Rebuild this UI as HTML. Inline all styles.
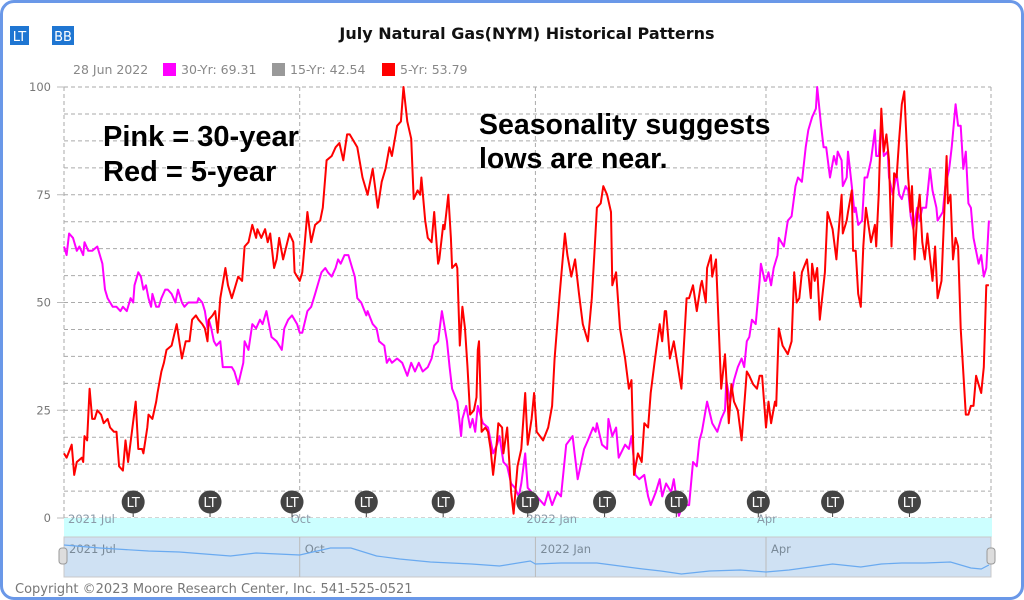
<!DOCTYPE html>
<html><head><meta charset="utf-8">
<style>
html,body{margin:0;padding:0;background:#fff;}
body{width:1024px;height:600px;overflow:hidden;font-family:"Liberation Sans","DejaVu Sans",sans-serif;}
#frame{position:absolute;left:0;top:0;width:1018px;height:594px;border:3px solid #6a98e8;border-radius:14px;box-sizing:content-box;}
svg{position:absolute;left:0;top:0;}
</style></head>
<body>
<div id="frame"></div>
<svg id="chart" width="1024" height="600">
  <g><rect x="10" y="26" width="19" height="19" fill="#1f76d2"/><text x="19.5" y="41" fill="#fff" font-size="13" text-anchor="middle" font-family="DejaVu Sans, sans-serif">LT</text></g>
  <g><rect x="52" y="26" width="22" height="19" fill="#1f76d2"/><text x="63" y="41" fill="#fff" font-size="13" text-anchor="middle" font-family="DejaVu Sans, sans-serif">BB</text></g>
  <text x="527" y="39" text-anchor="middle" font-size="16" font-weight="bold" font-family="DejaVu Sans, sans-serif" fill="#111">July Natural Gas(NYM) Historical Patterns</text>
  <g font-size="12.5" fill="#888" font-family="DejaVu Sans, sans-serif">
    <text x="73" y="74">28 Jun 2022</text>
    <g><rect x="163" y="63" width="13" height="13" fill="#ff00ff"/><text x="181" y="74">30-Yr: 69.31</text></g>
    <g><rect x="272" y="63" width="13" height="13" fill="#999"/><text x="290" y="74">15-Yr: 42.54</text></g>
    <g><rect x="382" y="63" width="13" height="13" fill="#ff0000"/><text x="400" y="74">5-Yr: 53.79</text></g>
  </g>
  <g id="grid"></g>
  <g id="yaxis"></g>
  <g id="series"></g>
  <g font-size="29" font-weight="bold" fill="#000">
    <text x="103" y="146">Pink = 30-year</text>
    <text x="103" y="181">Red = 5-year</text>
  </g>
  <g font-size="28.5" font-weight="bold" fill="#000">
    <text x="479" y="134">Seasonality suggests</text>
    <text x="479" y="168">lows are near.</text>
  </g>
  <rect x="64" y="518" width="928" height="19" fill="#ccffff"/>
  <g id="xlabels"></g>
  <g id="markers"></g>
  <g id="nav"></g>
  <text x="15" y="593" font-size="13" fill="#777" font-family="DejaVu Sans, sans-serif">Copyright ©2023 Moore Research Center, Inc. 541-525-0521</text>
</svg>
<script>
// ---- data ----
const yTicks = [0, 25, 50, 75, 100];
const monthLabels = ["2021 Jul", "Oct", "2022 Jan", "Apr"];
const monthDays = [0, 92, 184, 274];
const ltDays = [27, 57, 89, 118, 148, 181, 211, 239, 271, 300, 330];
const redDays = [0,1,3,4,5,7,7.5,8,9,10,11,12,13,14.5,15.5,17,18,19.5,20.5,21.5,23,24,25,26.5,28,29,30.5,31,32.5,33,34.5,36,36.5,38,39,40,42,44,46,47.5,49,50,51.5,52.5,54,55,56,56.5,58,59,60,61,63,64,65.5,66.5,68,69.5,70.5,72,73.5,75,75.5,77,78.5,79.5,80.5,82,83,84,85.5,88,89.5,90,92,93,95,96.5,98,100,101,102.5,104.5,106,107.5,109,110.5,111.5,113.5,114.5,116.5,118.5,120.5,122.5,124,125.5,127,128,130,131.5,132.5,134,135.5,136.5,138,139,139.5,141,142,143.5,144.5,146,146.5,148,148.5,150,151,151.5,153,153.5,154.5,155.5,156.5,157.5,158.5,160,161,161.5,162,163,164.5,165.5,166.5,167.5,169,169.5,171,171.5,173,174.5,175.5,177,178.5,180,181,182.5,183.5,184.5,187,189,190.5,191.5,193.5,195.5,196.5,198,199.5,201,202.5,204.5,206,207,208,209.5,210.5,212,213.5,214,215.5,217,219,220.5,221.5,222.5,224,225.5,226.5,228,229,230.5,232.5,233.5,234.5,235,236.5,238,241,243,244,245.5,247,248.5,249,250.5,251,252.5,253,254.5,256.5,258,259.5,260.5,261.5,263,264.5,266.5,267.5,269,270.5,271.5,272.5,274,275,276,277.5,278,279,280.5,281.5,282.5,284,285,286,287,288,290,291.5,292,293,294,295,297,298,300,301.5,302,303.5,304,305.5,306,307.5,308,309,310,311,312,313,314.5,315,316.5,317,318,319,320,321,322,323,324,325,326,327,328,329.5,330.5,331,332,333,334,335,336,337,339,340,341,342.5,344.5,345,346,347,348,349,350,352,353,354,355,356,357,358,359,360,361];
const redValues = [15,14,17,10,13,14,13,19,18,30,23,23,25,24,22,23,21,20,20,12,11,18,13,20,27,16,16,15,21,24,23,27,29,34,36,39,40,45,37,41,41,46,47,46,45,44,41,46,47,48,43,51,58,54,51,53,56,55,63,64,68,65,67,65,67,64,66,58,60,65,60,66,64,57,55,57,71,64,68,69,72,83,84,86,87,83,89,89,87,86,79,75,81,72,78,81,86,84,91,92,100,92,88,74,76,75,79,69,65,64,71,59,60,68,67,75,65,58,59,58,40,49,44,35,24,25,28,39,41,20,21,20,16,10,18,22,21,15,21,6,1,12,16,29,17,23,29,20,18,21,26,37,52,66,61,56,60,52,45,41,51,61,72,73,77,75,71,54,57,44,37,30,32,10,15,13,22,21,29,36,45,41,48,48,37,41,30,51,51,54,48,54,55,50,58,61,56,60,30,38,22,31,27,25,18,34,33,31,30,33,33,21,27,22,27,26,44,40,39,38,41,57,50,51,57,60,51,59,55,58,46,57,71,67,60,64,75,66,69,71,76,62,62,52,49,63,72,66,64,68,63,75,95,85,89,83,63,80,79,88,96,99,79,71,77,60,70,75,64,60,66,55,63,51,55,84,73,75,60,65,63,44,24,24,26,26,33,31,29,35,54,54];
const pinkDays = [0,1,2,3.5,5,6,7.5,8,9.5,11,13,13.5,15,16,17,19,20.5,22,23,24.5,26,27,27.5,29,30,31,32,33,34,34.5,36,37,38,39.5,40.5,42,43.5,44.5,46,47,48.5,50.5,52,52.5,54,55,56,56.5,57.5,58.5,59.5,61,62,63.5,65.5,66.5,68,70,70.5,72,73.5,75,76.5,77.5,79,81,83,85,86,87.5,89,91,92,93,95,96.5,98,99.5,100.5,102,103,104.5,106,107,108,109.5,111,112.5,113.5,114.5,116,118,118.5,120.5,122,123,125,126,127,128,130,132,134,135.5,137,138.5,140,142,143.5,144.5,146,147.5,149.5,150.5,151.5,153.5,155,155.5,157,158.5,159.5,160.5,161.5,163.5,165.5,167.5,169,170,171.5,173,174.5,176,177.5,178.5,180,181,182.5,184.5,187.5,189,190.5,192.5,194,196,198.5,200.5,203,204.5,206.5,207.5,208,210,212,212.5,214,215.5,216.5,219,220.5,221.5,223,224.5,226.5,228,229,231,232.5,233.5,235,237,238,240,241.5,244,245.5,247,248,249,251,253,255,256.5,258,258.5,260,261.5,263,264.5,265.5,266.5,267.5,268.5,270,271.5,272,273.5,274,275,276,277,278.5,279,281,282.5,284,285.5,286.5,288,289.5,290.5,292,293.5,294,295.5,296.5,297.5,299,300.5,301.5,302,303.5,304,305.5,306,307.5,308.5,309,310,311.5,312.5,313.5,315,316.5,317,318,319,320,321.5,322,323.5,325,326,327,328.5,329.5,330.5,331.5,333,334,335,336.5,338,339,340.5,341,343,344,345.5,346.5,348,349,350,351,352,353,354,355,357,358,359,360,361];
const pinkValues = [63,61,66,65,62,63,61,64,62,62,63,62,59,53,51,49,49,48,49,48,51,50,54,57,56,53,54,51,49,52,49,49,51,53,53,52,50,53,50,49,50,50,50,51,50,48,44,46,44,41,40,41,35,35,35,34,31,36,41,39,45,44,46,45,48,42,41,39,44,46,47,45,43,43,48,49,52,55,57,58,57,56,58,60,59,61,61,58,56,51,50,47,48,45,44,41,40,36,37,36,37,36,33,36,34,36,34,35,37,40,41,48,41,35,30,27,19,23,26,21,23,20,26,22,21,15,17,19,13,12,8,7,5,8,15,7,6,5,3,6,3,6,5,17,19,9,16,18,21,20,22,17,16,23,19,21,14,17,16,19,10,9,10,5,3,6,9,5,8,6,9,0.5,3,3,13,12,18,20,27,22,20,23,25,32,27,32,35,37,35,41,42,46,45,55,59,55,55,57,54,58,61,65,63,69,70,77,79,78,86,90,93,95,100,91,86,86,79,84,82,85,83,77,79,85,77,71,72,68,69,79,79,83,90,84,84,92,84,85,79,75,80,75,74,77,76,70,67,72,69,72,72,81,76,72,69,71,77,81,86,96,91,91,81,85,73,72,65,59,61,56,58,69];
const navDays = [0,14,33,45,65,75,92,104,112,122,131,143,159,170,182,184,194,208,214,226,233,241,252,264,274,283,300,311,319,327,336,346,354,358,361];
const navValues = [80,72.5,65,62.5,52.5,60,55,72.5,72.5,52.5,45,37.5,32.5,27.5,40,32.5,35,35,30,20,15,7.5,15,17.5,12.5,17.5,32.5,25,32.5,35,35,37.5,22.5,20,30];

// ---- scales ----
const X0 = 64, X1 = 991, PXPD = 2.562;
const xS = d => X0 + d * PXPD;
const Y0 = 518, Y100 = 87;
const yS = v => Y0 - (Y0 - Y100) * v / 100;
const NT = 537, NB = 577;
const nyS = v => NB - (NB - NT) * v / 100;
const NS = "http://www.w3.org/2000/svg";
function mk(tag, attrs, parent){ const e=document.createElementNS(NS,tag); for(const k in attrs) e.setAttribute(k,attrs[k]); parent.appendChild(e); return e; }

// grid
const grid = document.getElementById('grid');
for (let i=0;i<=16;i++){
  const v = i*6.25;
  const l = mk('line',{x1:X0,x2:X1,y1:yS(v),y2:yS(v),stroke:'#aaa','stroke-dasharray':'4,3','stroke-width':1},grid);
  
  
}
const vgDays = monthDays.concat([(X1-X0)/PXPD]);
vgDays.forEach(d=>{
  const l = mk('line',{x1:xS(d),x2:xS(d),y1:Y100,y2:Y0,stroke:'#aaa','stroke-dasharray':'4,3','stroke-width':1},grid);
  
  
});
// y axis
const ya = document.getElementById('yaxis');
yTicks.forEach(v=>{
  const t = mk('text',{x:51,y:yS(v)+4,'text-anchor':'end','font-size':11.5,fill:'#777','font-family':'DejaVu Sans, sans-serif'},ya);
  t.textContent = v;
  
  
  const tk = mk('line',{x1:57,x2:64,y1:yS(v),y2:yS(v),stroke:'#bbb'},ya);
  
  
});
// series
const sg = document.getElementById('series');
function line(days, vals, color, name){
  const pts = days.map((d,i)=>xS(d).toFixed(1)+','+yS(vals[i]).toFixed(1)).join(' ');
  const p = mk('polyline',{points:pts,fill:'none',stroke:color,'stroke-width':2,'stroke-linejoin':'round'},sg);
  
  
}
line(pinkDays,pinkValues,'#ff00ff','series-30yr-line');
line(redDays,redValues,'#ff0000','series-5yr-line');
// x labels
const xl = document.getElementById('xlabels');
monthLabels.forEach((m,i)=>{
  const t = mk('text',{x:xS(monthDays[i])+(i==0?4:-9),y:523,'font-size':11.5,fill:'#8a9aa8','font-family':'DejaVu Sans, sans-serif'},xl);
  t.textContent = m;
  
  
});
// LT markers
const mg = document.getElementById('markers');
ltDays.forEach(d=>{
  const g = mk('g',{},mg);
  
  
  const cx = xS(d);
  mk('line',{x1:cx,x2:cx,y1:510,y2:517,stroke:'#444','stroke-width':1},g);
  mk('circle',{cx:cx,cy:502,r:11.5,fill:'#444'},g);
  const t = mk('text',{x:cx,y:507,'text-anchor':'middle','font-size':13,fill:'#fff','font-family':'DejaVu Sans, sans-serif'},g);
  t.textContent='LT';
});
// navigator
const nav = document.getElementById('nav');
const nb = mk('rect',{x:X0,y:NT,width:X1-X0,height:NB-NT,fill:'#cfe1f3',stroke:'#c8c8c8'},nav);


monthDays.forEach((d,i)=>{
  if(i>0){ const l=mk('line',{x1:xS(d),x2:xS(d),y1:NT,y2:NB,stroke:'#bbb'},nav);
      }
  const t = mk('text',{x:xS(d)+5,y:553,'font-size':11.5,fill:'#7a8a98','font-family':'DejaVu Sans, sans-serif'},nav);
  t.textContent = monthLabels[i];
  
  
});
const np = mk('polyline',{points:navDays.map((d,i)=>xS(d).toFixed(1)+','+nyS(navValues[i]).toFixed(1)).join(' '),fill:'none',stroke:'#6aaaf0','stroke-width':1.2},nav);


[X0-1, X1].forEach(x=>{
  const h = mk('rect',{x:x-4,y:548,width:8,height:16,rx:3,fill:'#ddd',stroke:'#999'},nav);
  
  
});
</script>
</body></html>
